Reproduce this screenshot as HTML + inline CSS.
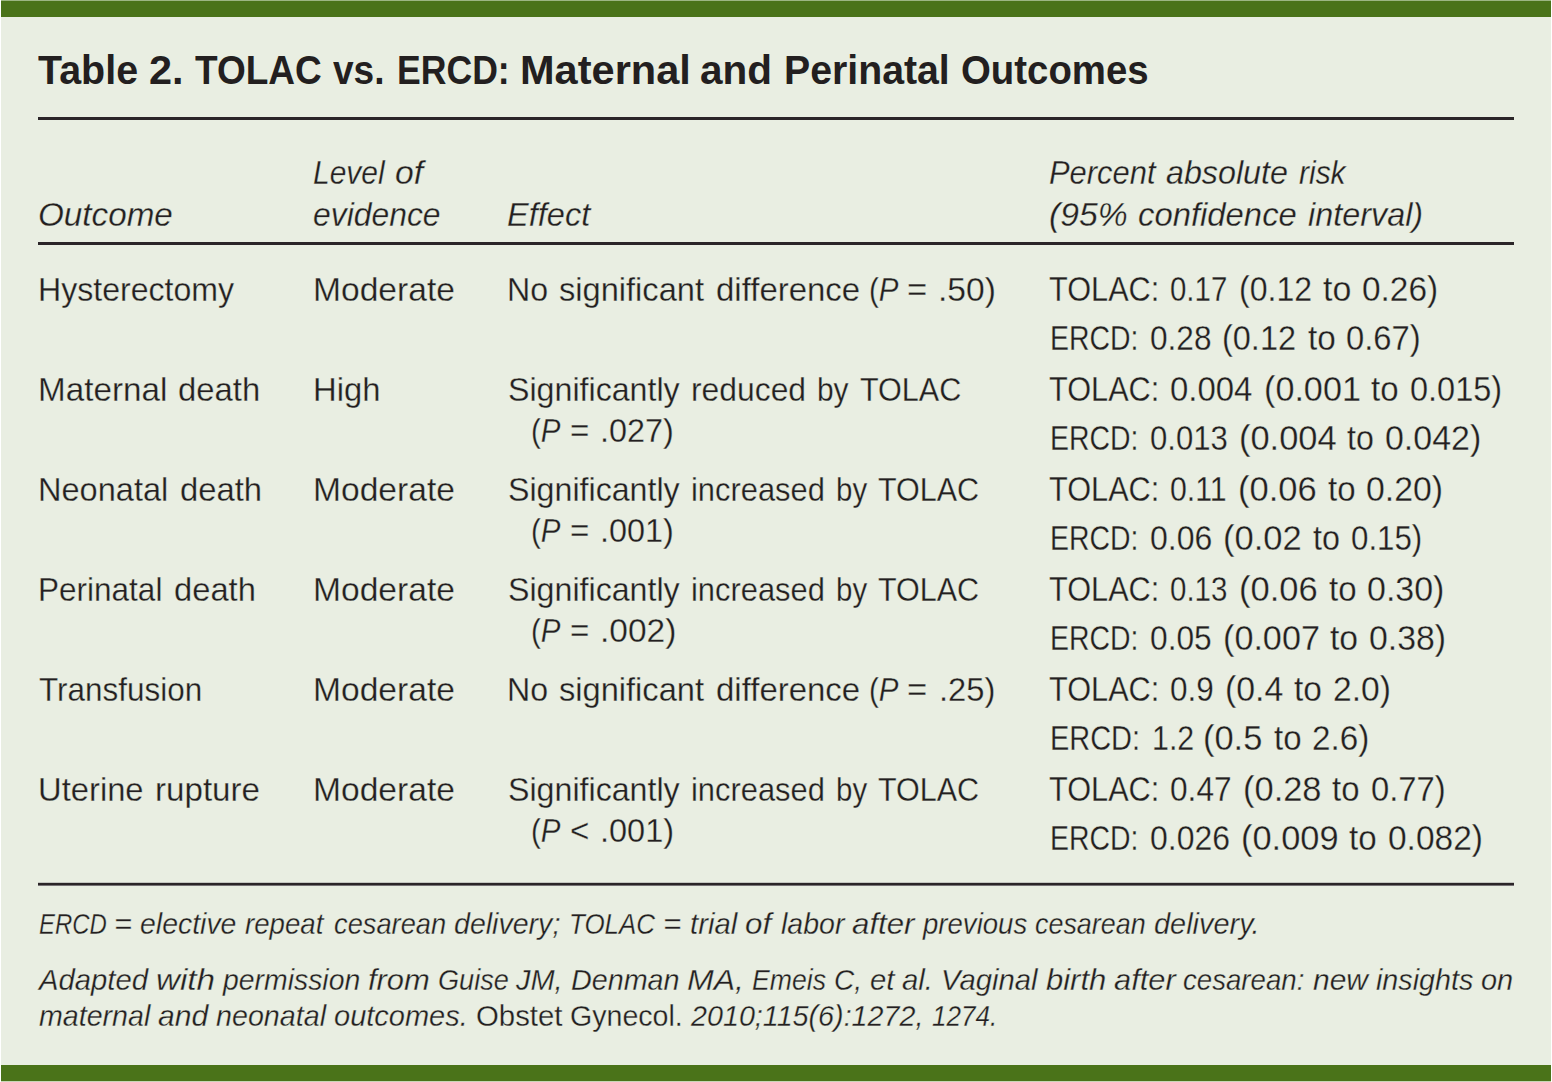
<!doctype html>
<html lang="en"><head><meta charset="utf-8"><title>Table 2. TOLAC vs. ERCD</title>
<style>
html,body{margin:0;padding:0;background:#fff;overflow:hidden;}
body{width:1552px;height:1082px;position:relative;overflow:hidden;font-family:"Liberation Sans",sans-serif;color:#231f20;}
#panel{position:absolute;left:1px;top:0;width:1550px;height:1082px;background:#e9eee2;}
.bar{position:absolute;left:1px;width:1550px;background:#4a7319;}
#bar-top{top:0;height:15.5px;border-top:1px solid #9cb682;}
#bar-bot{top:1065px;height:16px;border-bottom:1px solid #c9d6b8;}
.rule{position:absolute;left:38px;width:1476px;height:3px;background:#2b2528;}
.x{position:absolute;left:0;width:1552px;height:1em;margin:0;line-height:1;font-weight:normal;white-space:nowrap}
.x span.w{position:absolute;top:0;transform-origin:0 0;white-space:nowrap}
.b,.n,.h,.f{-webkit-text-stroke:0.28px #e9eee2;}
.x i{font-style:italic} .x .r{font-style:normal}
.t{font-weight:bold;font-size:40px;}
.h{font-style:italic;font-size:33.5px;}
.b{font-size:33.5px;}
.n{font-size:34.5px;}
.f{font-style:italic;font-size:29px;}
</style></head>
<body>
<main id="figure">
<div id="panel"></div>
<div class="bar" id="bar-top"></div>
<header id="caption">
<h1 class="x t" id="title" style="top:50px"><span class="w" style="left:37.51px;transform:scaleX(0.9858)">Table</span> <span class="w" style="left:149.05px;transform:scaleX(1.0365)">2.</span> <span class="w" style="left:195.04px;transform:scaleX(0.9244)">TOLAC</span> <span class="w" style="left:333.37px;transform:scaleX(0.9255)">vs.</span> <span class="w" style="left:396.75px;transform:scaleX(0.8900)">ERCD:</span> <span class="w" style="left:519.64px;transform:scaleX(1.0384)">Maternal</span> <span class="w" style="left:700.33px;transform:scaleX(1.0128)">and</span> <span class="w" style="left:783.80px;transform:scaleX(0.9810)">Perinatal</span> <span class="w" style="left:961.12px;transform:scaleX(0.9592)">Outcomes</span></h1>
</header>
<div class="rule" style="top:117px"></div>
<section id="thead">
<div class="x h" id="h1" style="top:198px"><span class="w" style="left:37.56px;transform:scaleX(0.9917)">Outcome</span></div>
<div class="x h" id="h2a" style="top:156px"><span class="w" style="left:313.11px;transform:scaleX(0.8949)">Level</span> <span class="w" style="left:395.19px;transform:scaleX(1.0050)">of</span></div>
<div class="x h" id="h2b" style="top:198px"><span class="w" style="left:312.61px;transform:scaleX(0.9513)">evidence</span></div>
<div class="x h" id="h3" style="top:198px"><span class="w" style="left:507.13px;transform:scaleX(0.9714)">Effect</span></div>
<div class="x h" id="h4a" style="top:156px"><span class="w" style="left:1049.08px;transform:scaleX(0.9228)">Percent</span> <span class="w" style="left:1166.08px;transform:scaleX(0.9627)">absolute</span> <span class="w" style="left:1298.55px;transform:scaleX(0.8943)">risk</span></div>
<div class="x h" id="h4b" style="top:198px"><span class="w" style="left:1049.39px;transform:scaleX(1.0049)">(95%</span> <span class="w" style="left:1138.42px;transform:scaleX(0.9801)">confidence</span> <span class="w" style="left:1307.72px;transform:scaleX(0.9662)">interval)</span></div>
</section>
<div class="rule" style="top:242px"></div>
<section id="tbody">
<div class="row" id="row1">
<div class="x b" id="o1" style="top:273px"><span class="w" style="left:38.27px;transform:scaleX(0.9576)">Hysterectomy</span></div>
<div class="x b" id="l1" style="top:273px"><span class="w" style="left:313.14px;transform:scaleX(1.0026)">Moderate</span></div>
<div class="x b" id="e1" style="top:273px"><span class="w" style="left:506.96px;transform:scaleX(0.9588)">No</span> <span class="w" style="left:559.03px;transform:scaleX(0.9733)">significant</span> <span class="w" style="left:716.32px;transform:scaleX(0.9840)">difference</span> <span class="w" style="left:868.94px;transform:scaleX(0.8800)">(<i>P</i></span> <span class="w" style="left:907.49px;transform:scaleX(1.0327)">=</span> <span class="w" style="left:938.49px;transform:scaleX(1.0028)">.50)</span></div>
<div class="x n" id="r1a" style="top:272px"><span class="w" style="left:1048.63px;transform:scaleX(0.8898)">TOLAC:</span> <span class="w" style="left:1170.33px;transform:scaleX(0.8534)">0.17</span> <span class="w" style="left:1238.91px;transform:scaleX(0.9289)">(0.12</span> <span class="w" style="left:1323.01px;transform:scaleX(0.9838)">to</span> <span class="w" style="left:1362.29px;transform:scaleX(0.9688)">0.26)</span></div>
<div class="x n" id="r1b" style="top:321px"><span class="w" style="left:1049.93px;transform:scaleX(0.8237)">ERCD:</span> <span class="w" style="left:1149.86px;transform:scaleX(0.9156)">0.28</span> <span class="w" style="left:1222.48px;transform:scaleX(0.9409)">(0.12</span> <span class="w" style="left:1307.52px;transform:scaleX(0.9651)">to</span> <span class="w" style="left:1346.31px;transform:scaleX(0.9502)">0.67)</span></div>
</div>
<div class="row" id="row2">
<div class="x b" id="o2" style="top:373px"><span class="w" style="left:38.17px;transform:scaleX(0.9923)">Maternal</span> <span class="w" style="left:178.43px;transform:scaleX(0.9807)">death</span></div>
<div class="x b" id="l2" style="top:373px"><span class="w" style="left:313.21px;transform:scaleX(0.9781)">High</span></div>
<div class="x b" id="e2a" style="top:373px"><span class="w" style="left:507.56px;transform:scaleX(0.9605)">Significantly</span> <span class="w" style="left:691.06px;transform:scaleX(0.9502)">reduced</span> <span class="w" style="left:817.29px;transform:scaleX(0.8921)">by</span> <span class="w" style="left:859.92px;transform:scaleX(0.9119)">TOLAC</span></div>
<div class="x b" id="e2b" style="top:414px"><span class="w" style="left:531.34px;transform:scaleX(0.8800)">(<i>P</i></span> <span class="w" style="left:570.07px;transform:scaleX(0.9897)">=</span> <span class="w" style="left:600.40px;transform:scaleX(0.9670)">.027)</span></div>
<div class="x n" id="r2a" style="top:372px"><span class="w" style="left:1048.63px;transform:scaleX(0.8898)">TOLAC:</span> <span class="w" style="left:1170.21px;transform:scaleX(0.9544)">0.004</span> <span class="w" style="left:1263.57px;transform:scaleX(0.9904)">(0.001</span> <span class="w" style="left:1371.42px;transform:scaleX(0.9576)">to</span> <span class="w" style="left:1410.02px;transform:scaleX(0.9418)">0.015)</span></div>
<div class="x n" id="r2b" style="top:421px"><span class="w" style="left:1049.93px;transform:scaleX(0.8237)">ERCD:</span> <span class="w" style="left:1149.87px;transform:scaleX(0.9017)">0.013</span> <span class="w" style="left:1238.76px;transform:scaleX(0.9976)">(0.004</span> <span class="w" style="left:1347.33px;transform:scaleX(0.9314)">to</span> <span class="w" style="left:1385.17px;transform:scaleX(0.9831)">0.042)</span></div>
</div>
<div class="row" id="row3">
<div class="x b" id="o3" style="top:473px"><span class="w" style="left:38.23px;transform:scaleX(0.9719)">Neonatal</span> <span class="w" style="left:179.53px;transform:scaleX(0.9794)">death</span></div>
<div class="x b" id="l3" style="top:473px"><span class="w" style="left:313.14px;transform:scaleX(1.0026)">Moderate</span></div>
<div class="x b" id="e3a" style="top:473px"><span class="w" style="left:507.56px;transform:scaleX(0.9605)">Significantly</span> <span class="w" style="left:691.13px;transform:scaleX(0.9211)">increased</span> <span class="w" style="left:836.22px;transform:scaleX(0.8800)">by</span> <span class="w" style="left:878.32px;transform:scaleX(0.9101)">TOLAC</span></div>
<div class="x b" id="e3b" style="top:514px"><span class="w" style="left:531.34px;transform:scaleX(0.8800)">(<i>P</i></span> <span class="w" style="left:570.07px;transform:scaleX(0.9897)">=</span> <span class="w" style="left:600.40px;transform:scaleX(0.9670)">.001)</span></div>
<div class="x n" id="r3a" style="top:472px"><span class="w" style="left:1048.63px;transform:scaleX(0.8898)">TOLAC:</span> <span class="w" style="left:1170.30px;transform:scaleX(0.8776)">0.11</span> <span class="w" style="left:1238.05px;transform:scaleX(1.0011)">(0.06</span> <span class="w" style="left:1327.72px;transform:scaleX(0.9576)">to</span> <span class="w" style="left:1366.28px;transform:scaleX(0.9794)">0.20)</span></div>
<div class="x n" id="r3b" style="top:521px"><span class="w" style="left:1049.93px;transform:scaleX(0.8237)">ERCD:</span> <span class="w" style="left:1149.84px;transform:scaleX(0.9281)">0.06</span> <span class="w" style="left:1223.15px;transform:scaleX(1.0011)">(0.02</span> <span class="w" style="left:1312.83px;transform:scaleX(0.9352)">to</span> <span class="w" style="left:1350.87px;transform:scaleX(0.9063)">0.15)</span></div>
</div>
<div class="row" id="row4">
<div class="x b" id="o4" style="top:573px"><span class="w" style="left:38.31px;transform:scaleX(0.9408)">Perinatal</span> <span class="w" style="left:173.73px;transform:scaleX(0.9769)">death</span></div>
<div class="x b" id="l4" style="top:573px"><span class="w" style="left:313.14px;transform:scaleX(1.0026)">Moderate</span></div>
<div class="x b" id="e4a" style="top:573px"><span class="w" style="left:507.56px;transform:scaleX(0.9605)">Significantly</span> <span class="w" style="left:691.13px;transform:scaleX(0.9211)">increased</span> <span class="w" style="left:836.22px;transform:scaleX(0.8800)">by</span> <span class="w" style="left:878.32px;transform:scaleX(0.9101)">TOLAC</span></div>
<div class="x b" id="e4b" style="top:614px"><span class="w" style="left:531.34px;transform:scaleX(0.8800)">(<i>P</i></span> <span class="w" style="left:570.07px;transform:scaleX(0.9897)">=</span> <span class="w" style="left:600.30px;transform:scaleX(0.9993)">.002)</span></div>
<div class="x n" id="r4a" style="top:572px"><span class="w" style="left:1048.63px;transform:scaleX(0.8898)">TOLAC:</span> <span class="w" style="left:1170.33px;transform:scaleX(0.8549)">0.13</span> <span class="w" style="left:1238.85px;transform:scaleX(1.0011)">(0.06</span> <span class="w" style="left:1328.52px;transform:scaleX(0.9576)">to</span> <span class="w" style="left:1367.07px;transform:scaleX(0.9847)">0.30)</span></div>
<div class="x n" id="r4b" style="top:621px"><span class="w" style="left:1049.93px;transform:scaleX(0.8237)">ERCD:</span> <span class="w" style="left:1149.85px;transform:scaleX(0.9189)">0.05</span> <span class="w" style="left:1222.57px;transform:scaleX(0.9904)">(0.007</span> <span class="w" style="left:1330.41px;transform:scaleX(0.9763)">to</span> <span class="w" style="left:1369.47px;transform:scaleX(0.9807)">0.38)</span></div>
</div>
<div class="row" id="row5">
<div class="x b" id="o5" style="top:673px"><span class="w" style="left:38.60px;transform:scaleX(0.9388)">Transfusion</span></div>
<div class="x b" id="l5" style="top:673px"><span class="w" style="left:313.14px;transform:scaleX(1.0026)">Moderate</span></div>
<div class="x b" id="e5" style="top:673px"><span class="w" style="left:506.96px;transform:scaleX(0.9588)">No</span> <span class="w" style="left:559.03px;transform:scaleX(0.9733)">significant</span> <span class="w" style="left:716.32px;transform:scaleX(0.9840)">difference</span> <span class="w" style="left:868.94px;transform:scaleX(0.8800)">(<i>P</i></span> <span class="w" style="left:907.49px;transform:scaleX(1.0327)">=</span> <span class="w" style="left:938.57px;transform:scaleX(0.9763)">.25)</span></div>
<div class="x n" id="r5a" style="top:672px"><span class="w" style="left:1048.63px;transform:scaleX(0.8898)">TOLAC:</span> <span class="w" style="left:1170.26px;transform:scaleX(0.9127)">0.9</span> <span class="w" style="left:1225.09px;transform:scaleX(0.9813)">(0.4</span> <span class="w" style="left:1294.42px;transform:scaleX(0.9695)">to</span> <span class="w" style="left:1333.29px;transform:scaleX(0.9748)">2.0)</span></div>
<div class="x n" id="r5b" style="top:721px"><span class="w" style="left:1049.89px;transform:scaleX(0.8390)">ERCD:</span> <span class="w" style="left:1151.58px;transform:scaleX(0.8800)">1.2</span> <span class="w" style="left:1203.36px;transform:scaleX(0.9976)">(0.5</span> <span class="w" style="left:1273.62px;transform:scaleX(0.9583)">to</span> <span class="w" style="left:1312.21px;transform:scaleX(0.9640)">2.6)</span></div>
</div>
<div class="row" id="row6">
<div class="x b" id="o6" style="top:773px"><span class="w" style="left:38.46px;transform:scaleX(0.9777)">Uterine</span> <span class="w" style="left:154.97px;transform:scaleX(0.9893)">rupture</span></div>
<div class="x b" id="l6" style="top:773px"><span class="w" style="left:313.14px;transform:scaleX(1.0026)">Moderate</span></div>
<div class="x b" id="e6a" style="top:773px"><span class="w" style="left:507.56px;transform:scaleX(0.9605)">Significantly</span> <span class="w" style="left:691.13px;transform:scaleX(0.9211)">increased</span> <span class="w" style="left:836.22px;transform:scaleX(0.8800)">by</span> <span class="w" style="left:878.32px;transform:scaleX(0.9101)">TOLAC</span></div>
<div class="x b" id="e6b" style="top:814px"><span class="w" style="left:531.34px;transform:scaleX(0.8800)">(<i>P</i></span> <span class="w" style="left:570.07px;transform:scaleX(0.9897)">&lt;</span> <span class="w" style="left:600.39px;transform:scaleX(0.9698)">.001)</span></div>
<div class="x n" id="r6a" style="top:772px"><span class="w" style="left:1048.63px;transform:scaleX(0.8898)">TOLAC:</span> <span class="w" style="left:1170.25px;transform:scaleX(0.9172)">0.47</span> <span class="w" style="left:1242.85px;transform:scaleX(0.9985)">(0.28</span> <span class="w" style="left:1332.32px;transform:scaleX(0.9539)">to</span> <span class="w" style="left:1370.81px;transform:scaleX(0.9502)">0.77)</span></div>
<div class="x n" id="r6b" style="top:821px"><span class="w" style="left:1049.93px;transform:scaleX(0.8237)">ERCD:</span> <span class="w" style="left:1149.84px;transform:scaleX(0.9256)">0.026</span> <span class="w" style="left:1240.76px;transform:scaleX(0.9968)">(0.009</span> <span class="w" style="left:1349.22px;transform:scaleX(0.9613)">to</span> <span class="w" style="left:1387.89px;transform:scaleX(0.9704)">0.082)</span></div>
</div>
</section>
<div class="rule" style="top:882px;height:2px;background:transparent;border-top:1px solid #c4c6c0;border-bottom:1px solid #767275;box-shadow:inset 0 0 0 2px #2b2528"></div>
<footer id="notes">
<p class="x f" id="f1" style="top:910px"><span class="w" style="left:38.78px;transform:scaleX(0.8239)">ERCD</span> <span class="w" style="left:114.44px;transform:scaleX(1.0618)">=</span> <span class="w" style="left:140.32px;transform:scaleX(0.9805)">elective</span> <span class="w" style="left:244.72px;transform:scaleX(0.9523)">repeat</span> <span class="w" style="left:333.96px;transform:scaleX(0.9399)">cesarean</span> <span class="w" style="left:454.12px;transform:scaleX(0.9847)">delivery;</span> <span class="w" style="left:568.64px;transform:scaleX(0.8950)">TOLAC</span> <span class="w" style="left:662.51px;transform:scaleX(1.0800)">=</span> <span class="w" style="left:690.14px;transform:scaleX(1.0092)">trial</span> <span class="w" style="left:745.22px;transform:scaleX(1.0800)">of</span> <span class="w" style="left:780.61px;transform:scaleX(0.9837)">labor</span> <span class="w" style="left:851.99px;transform:scaleX(1.0774)">after</span> <span class="w" style="left:922.61px;transform:scaleX(0.9506)">previous</span> <span class="w" style="left:1034.87px;transform:scaleX(0.9279)">cesarean</span> <span class="w" style="left:1153.60px;transform:scaleX(0.9965)">delivery.</span></p>
<p class="x f" id="f2" style="top:966px"><span class="w" style="left:39.06px;transform:scaleX(1.0094)">Adapted</span> <span class="w" style="left:155.88px;transform:scaleX(1.1455)">with</span> <span class="w" style="left:222.73px;transform:scaleX(0.9786)">permission</span> <span class="w" style="left:367.84px;transform:scaleX(1.0650)">from</span> <span class="w" style="left:437.50px;transform:scaleX(0.9354)">Guise</span> <span class="w" style="left:516.40px;transform:scaleX(0.9986)">JM,</span> <span class="w" style="left:570.91px;transform:scaleX(0.9903)">Denman</span> <span class="w" style="left:687.29px;transform:scaleX(1.1056)">MA,</span> <span class="w" style="left:751.88px;transform:scaleX(0.9177)">Emeis</span> <span class="w" style="left:833.85px;transform:scaleX(0.9649)">C,</span> <span class="w" style="left:869.79px;transform:scaleX(1.0104)">et</span> <span class="w" style="left:902.24px;transform:scaleX(1.0124)">al.</span> <span class="w" style="left:940.98px;transform:scaleX(1.0099)">Vaginal</span> <span class="w" style="left:1045.57px;transform:scaleX(1.0680)">birth</span> <span class="w" style="left:1113.60px;transform:scaleX(1.0639)">after</span> <span class="w" style="left:1183.45px;transform:scaleX(0.9529)">cesarean:</span> <span class="w" style="left:1312.78px;transform:scaleX(1.0343)">new</span> <span class="w" style="left:1375.91px;transform:scaleX(0.9890)">insights</span> <span class="w" style="left:1481.10px;transform:scaleX(0.9967)">on</span></p>
<p class="x f" id="f3" style="top:1002px"><span class="w" style="left:38.91px;transform:scaleX(0.9861)">maternal</span> <span class="w" style="left:158.12px;transform:scaleX(1.0385)">and</span> <span class="w" style="left:216.41px;transform:scaleX(0.9886)">neonatal</span> <span class="w" style="left:334.40px;transform:scaleX(0.9998)">outcomes.</span> <span class="w" style="left:475.98px;transform:scaleX(1.0122)"><span class="r">Obstet</span></span> <span class="w" style="left:570.42px;transform:scaleX(0.9853)"><span class="r">Gynecol.</span></span> <span class="w" style="left:691.15px;transform:scaleX(0.9895)">2010;115(6):1272,</span> <span class="w" style="left:931.53px;transform:scaleX(0.8996)">1274.</span></p>
</footer>
<div class="bar" id="bar-bot"></div>
</main>
</body></html>
